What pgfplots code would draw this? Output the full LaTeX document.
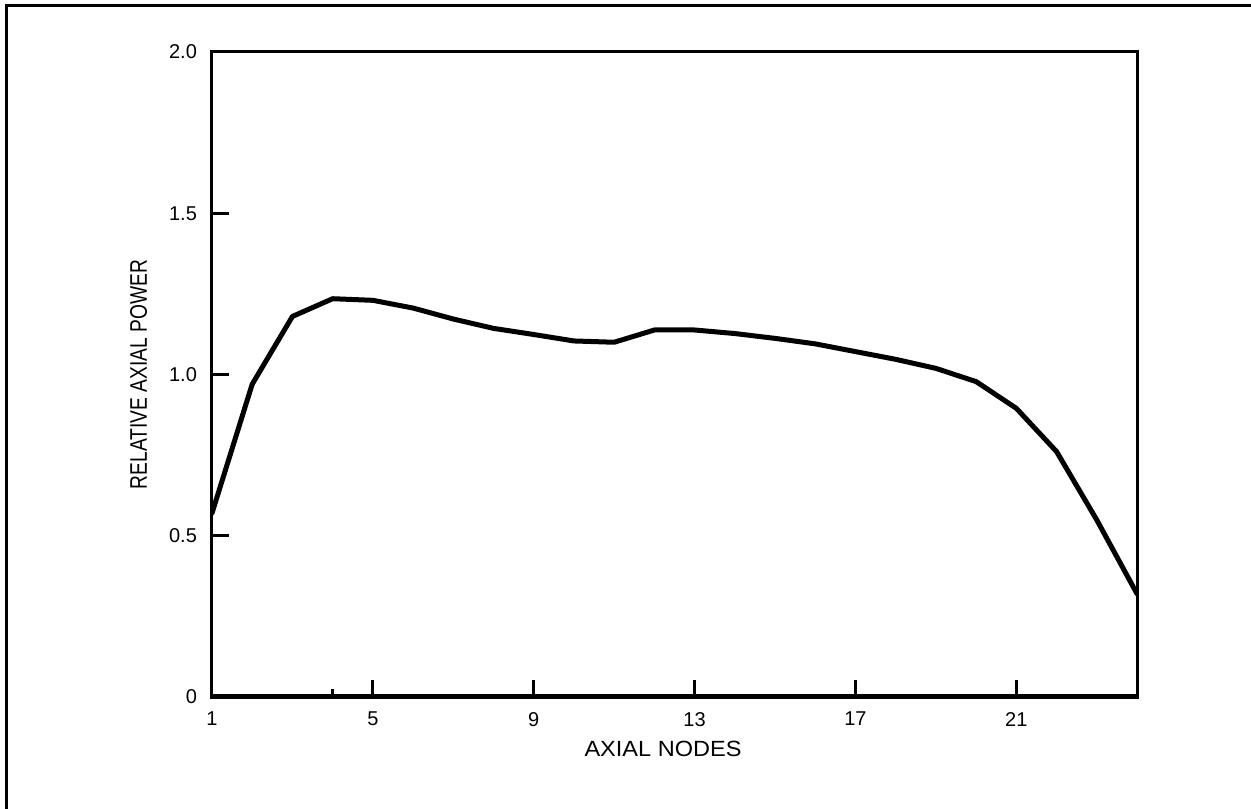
\documentclass[border=0pt]{standalone}
\usepackage{fontspec}
\setmainfont{Liberation Sans}
\usepackage{pgfplots}
\pgfplotsset{compat=1.18}

% Relative axial power at each axial node
\pgfplotstableread{
node power
1  0.57
2  0.97
3  1.18
4  1.235
5  1.23
6  1.206
7  1.172
8  1.143
9  1.124
10 1.104
11 1.100
12 1.138
13 1.138
14 1.127
15 1.112
16 1.095
17 1.071
18 1.047
19 1.019
20 0.978
21 0.895
22 0.761
23 0.549
24 0.32
}\powerdata

\begin{document}
\begin{tikzpicture}
\useasboundingbox (-106pt,-55.5pt) rectangle (519.5pt,348.5pt);
\begin{axis}[
  at={(0,0)}, anchor=south west,
  scale only axis, width=462.5pt, height=322.5pt,
  xmin=1, xmax=24, ymin=0, ymax=2,
  xtick={1,5,9,13,17,21},
  xticklabels={1,5,9,13,17,21},
  ytick={0,0.5,1,1.5,2},
  yticklabels={0,0.5,1.0,1.5,2.0},
  extra x ticks={4},
  extra x tick labels={},
  extra x tick style={major tick length=4pt},
  tick pos=left,
  tick align=inside,
  major tick length=8.5pt,
  tick style={line width=1.5pt, black},
  axis line style={line width=1.5pt},
  ticklabel style={font=\fontsize{10}{12}\selectfont},
  yticklabel style={xshift=-4pt},
  xticklabel style={yshift=-4pt},
  xlabel={AXIAL NODES},
  ylabel={RELATIVE AXIAL POWER},
  every axis x label/.style={at={(axis description cs:0.4876,-0.093)}, anchor=base, xscale=1.07, font=\fontsize{11}{13}\selectfont},
  every axis y label/.style={at={(axis description cs:-0.0703,0.5)}, anchor=base, rotate=90, xscale=0.8, font=\fontsize{12}{14}\selectfont},
]
  \draw[line width=3pt] (rel axis cs:0,0) -- (rel axis cs:1,0);
  \addplot[black, line width=2.5pt, line join=round, line cap=round] table[x=node, y=power] {\powerdata};
\end{axis}
% page frame
\draw[line width=1.5pt] (-102.5pt,-100pt) -- (-102.5pt,345.5pt) -- (700pt,345.5pt);
\end{tikzpicture}
\end{document}
